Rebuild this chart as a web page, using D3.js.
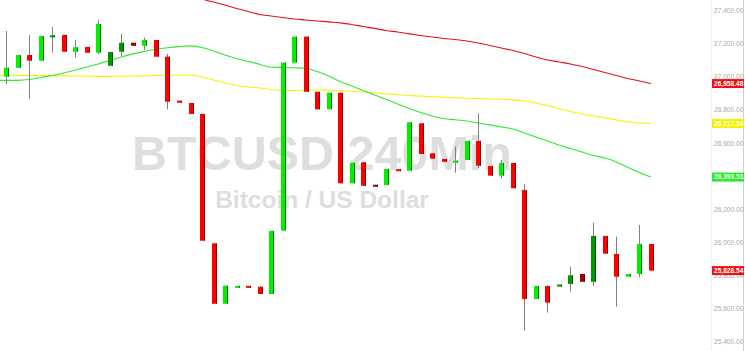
<!DOCTYPE html>
<html>
<head>
	<title></title>
	<script src="https://d3js.org/d3.v7.min.js"></script>
	<style>
		body { margin: 0; background: #fff; }
		svg { display: block; }
	</style>
</head>
<body>
	<div id="chart"></div>
	<script type="text/javascript">
		// candles, 240 min bars (index only, no dates on the picture)
		var opens  = [27000,27054,27131,27097,27248,27252,27151,27180,27145,27066,27151,27205,27187,27222,27121,26855,26841,26775,25993,25628,25733,25736,25731,25687,26070,27085,27242,26909,26803,26903,26356,26483,26347,26346,26441,26432,26718,26537,26503,26490,26497,26612,26460,26402,26479,26315,25657,25735,25741,25748,25808,25761,26038,25929,25792,25808,25989];
		var highs  = [27276,27131,27252,27246,27300,27252,27222,27180,27343,27149,27260,27205,27236,27222,27137,26855,26841,26775,25993,25737,25736,25736,25731,26068,27085,27242,27242,26909,26903,26903,26480,26483,26347,26442,26441,26725,26718,26537,26503,26577,26612,26779,26460,26497,26479,26352,25735,25741,25744,25852,25808,26118,26038,26033,25808,26104,25989];
		var lows   = [26954,27054,26867,27097,27145,27151,27115,27145,27135,27066,27125,27187,27161,27121,26803,26843,26775,26009,25628,25628,25733,25733,25687,25687,26070,27085,26909,26803,26803,26356,26356,26341,26344,26346,26432,26432,26533,26505,26486,26420,26497,26447,26402,26386,26326,25465,25657,25574,25741,25701,25761,25737,25931,25610,25792,25788,25828.54];
		var closes = [27054,27131,27097,27246,27250,27151,27178,27145,27318,27149,27205,27187,27222,27121,26849,26843,26775,26009,25628,25737,25736,25733,25687,26068,27085,27242,26909,26803,26903,26356,26480,26341,26344,26442,26432,26725,26533,26505,26486,26493,26612,26462,26402,26479,26326,25657,25735,25635,25744,25800,25761,26038,25931,25792,25808,25989,25828.54];
		var tones  = ['up','up','down','up','upDark','down','up','down','up','upDark','upDark','downDark','up','down','down','down','down','down','down','up','up','down','down','up','up','up','down','down','up','down','up','down','downDark','up','down','up','down','down','down','up','up','down','down','up','down','down','up','down','upDark','upDark','downDark','upDark','down','down','up','up','down'];

		// moving averages (green and yellow start one bar before the first candle)
		var maFast = [26978,26978,26978,26983,26995,27007,27022,27041,27059,27077,27098,27119,27138,27153,27166,27175,27182,27186,27176,27155,27131,27110,27093,27075,27057,27056,27054,27051,27031,27004,26971,26944,26917,26889,26862,26835,26808,26784,26763,26747,26740,26732,26720,26709,26697,26684,26660,26636,26612,26587,26566,26545,26524,26509,26485,26451,26421,26393.51];
		var maMid  = [27008,27008,27008,27007,27007,27006,27005,27004,27003,27002,27002,27003,27004,27005,27007,27008,27010,27010,26998,26980,26962,26947,26938,26932,26923,26917,26917,26920,26920,26918,26915,26912,26908,26903,26897,26891,26886,26883,26879,26876,26873,26870,26868,26866,26864,26860,26853,26841,26826,26808,26790,26775,26763,26751,26739,26728,26720,26717.34];
		var maSlow = [27542,27524,27506,27488,27469,27451,27433,27412,27394,27376,27367,27358,27349,27343,27337,27331,27325,27315,27303,27292,27279,27270,27259,27249,27240,27231,27225,27216,27204,27189,27173,27158,27140,27119,27101,27089,27077,27062,27044,27025,27007,26989,26974,26958.48];
		var maFastStart = -1, maMidStart = -1, maSlowStart = 13;

		var priceTicks = [27400,27200,27000,26800,26600,26400,26200,26000,25800,25600,25400];
		var lastValues = [26958.48, 26717.34, 26393.51, 25828.54];
		var lastColors = ['#f01010', '#f2f200', '#22ee22', '#f01010'];

		var title = 'BTCUSD 240Min';
		var subtitle = 'Bitcoin / US Dollar';

		var width = 745, height = 351;

		var toneFill = { up: '#00f000', down: '#ff0000', upDark: '#009a00', downDark: '#a00000' };
		var toneEdge = { up: '#007a00', down: '#8a0000', upDark: '#005800', downDark: '#600000' };

		//scales.........................

		var xScale = d3.scaleLinear()
			.domain([0, opens.length - 1])
			.range([6.3, 651]);

		var yScale = d3.scaleLinear()
			.domain([25400, 27400])
			.range([341.5, 10.5]);

		var svg = d3.select('#chart').append('svg')
			.attr('width', width)
			.attr('height', height)
			.style('font-family', 'Arial, "Liberation Sans", sans-serif');

		//watermark......................

		svg.append('text')
			.attr('x', 322)
			.attr('y', 170)
			.attr('text-anchor', 'middle')
			.style('font-size', '48.5px')
			.style('font-weight', 'bold')
			.style('fill', '#dedede')
			.text(title);

		svg.append('text')
			.attr('x', 322)
			.attr('y', 208)
			.attr('text-anchor', 'middle')
			.style('font-size', '24.5px')
			.style('font-weight', 'bold')
			.style('fill', '#dedede')
			.text(subtitle);

		//axis borders...................

		svg.append('line')
			.attr('x1', 711.5).attr('x2', 711.5)
			.attr('y1', 0).attr('y2', height)
			.style('stroke', '#f2f2f2');

		svg.append('line')
			.attr('x1', 743.5).attr('x2', 743.5)
			.attr('y1', 0).attr('y2', height)
			.style('stroke', '#cfcfcf');

		//price axis.....................

		var yAxis = d3.axisRight(yScale)
			.tickValues(priceTicks)
			.tickSize(0)
			.tickPadding(0)
			.tickFormat(d3.format(',.2f'));

		var yGuide = svg.append('g')
			.attr('transform', 'translate(714,0)')
			.call(yAxis);
		yGuide.select('.domain').remove();
		yGuide.selectAll('text')
			.style('font-size', '6.6px')
			.style('font-family', 'Arial, "Liberation Sans", sans-serif')
			.style('fill', '#a9a9a9');

		//moving averages................

		function maLine(values, start, color) {
			var line = d3.line()
				.x(function(d, i) { return xScale(i + start); })
				.y(function(d) { return yScale(d); })
				.curve(d3.curveMonotoneX);
			svg.append('path')
				.datum(values)
				.attr('d', line)
				.style('fill', 'none')
				.style('stroke', color)
				.style('stroke-width', 1.1);
		}

		maLine(maSlow, maSlowStart, '#e8101a');
		maLine(maMid, maMidStart, '#f4f400');
		maLine(maFast, maFastStart, '#30e830');

		//candles........................

		var idx = d3.range(opens.length);

		svg.append('g').selectAll('line')
			.data(idx)
			.enter()
			.append('line')
			.attr('x1', function(i) { return Math.round(xScale(i)) + 0.5; })
			.attr('x2', function(i) { return Math.round(xScale(i)) + 0.5; })
			.attr('y1', function(i) { return yScale(highs[i]); })
			.attr('y2', function(i) { return yScale(lows[i]); })
			.style('stroke', '#808080')
			.style('stroke-width', 1);

		var bodies = svg.append('g').selectAll('g')
			.data(idx)
			.enter()
			.append('g');

		bodies.append('rect')
			.attr('x', function(i) { return Math.round(xScale(i)) - 2; })
			.attr('width', 5)
			.attr('y', function(i) { return yScale(Math.max(opens[i], closes[i])); })
			.attr('height', function(i) {
				return Math.max(2, Math.abs(yScale(opens[i]) - yScale(closes[i])));
			})
			.style('fill', function(i) { return toneFill[tones[i]]; });

		bodies.append('rect')
			.attr('x', function(i) { return Math.round(xScale(i)) + 2; })
			.attr('width', 1)
			.attr('y', function(i) { return yScale(Math.max(opens[i], closes[i])); })
			.attr('height', function(i) {
				return Math.max(2, Math.abs(yScale(opens[i]) - yScale(closes[i])));
			})
			.style('fill', function(i) { return toneEdge[tones[i]]; });

		//last value labels..............

		var tags = svg.append('g').selectAll('g')
			.data(lastValues)
			.enter()
			.append('g')
			.attr('transform', function(d) { return 'translate(712,' + yScale(d) + ')'; });

		tags.append('rect')
			.attr('x', 0)
			.attr('y', -4.5)
			.attr('width', 32)
			.attr('height', 9)
			.style('fill', function(d, i) { return lastColors[i]; });

		tags.append('text')
			.attr('x', 2)
			.attr('y', 2.4)
			.style('font-size', '6.6px')
			.style('font-weight', 'bold')
			.style('fill', '#ffffff')
			.text(function(d) { return d3.format(',.2f')(d); });
	</script>
</body>
</html>
